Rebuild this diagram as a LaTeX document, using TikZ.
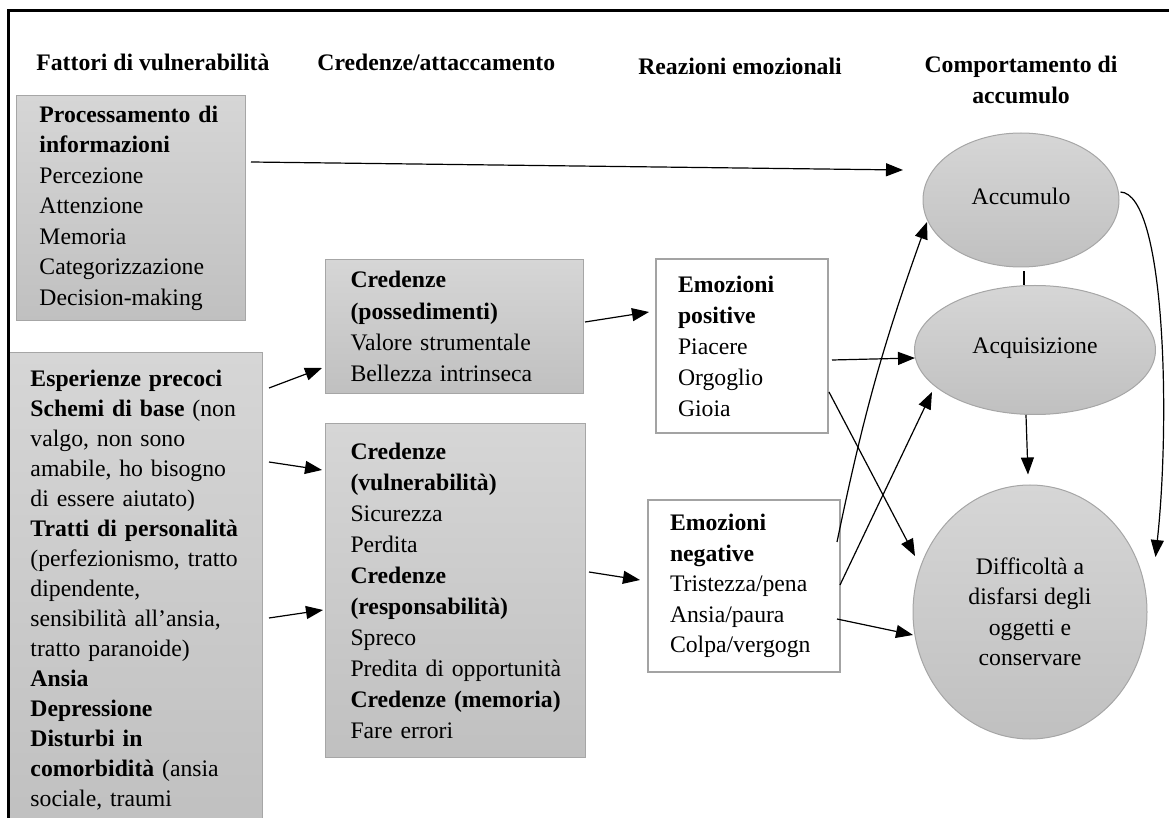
\documentclass[tikz,border=0pt]{standalone}
\usepackage{fontspec}
\setmainfont{Liberation Serif}
\usetikzlibrary{arrows.meta,positioning,shapes.geometric,calc}
\definecolor{hsLine}{HTML}{A6A6A6}
\definecolor{hsTop}{HTML}{D6D6D6}
\definecolor{hsBot}{HTML}{C0C0C0}
\definecolor{hsEmo}{HTML}{A3A3A3}
\newcommand{\hsfont}{\fontsize{11.85pt}{15.25pt}\selectfont}

\begin{document}
\begin{tikzpicture}[
  x=0.5pt, y=-0.5pt,
  head/.style={font=\hsfont\bfseries,inner sep=0pt,anchor=west},
  pad/.style={execute at begin node={\leftskip=#1\relax}},
  box/.style={draw=hsLine,line width=0.5pt,top color=hsTop,bottom color=hsBot,anchor=north west,align=left,inner sep=0pt,font=\hsfont},
  emo/.style={draw=hsEmo,line width=1pt,fill=white,anchor=north west,align=left,inner sep=0pt,pad=11pt,font=\hsfont},
  oval/.style={ellipse,draw=hsLine,line width=0.5pt,top color=hsTop,bottom color=hsBot,inner sep=0pt,align=center,font=\hsfont},
  flow/.style={-{Triangle[length=8.5pt,width=6.5pt]},line width=0.6pt,black}
]
  \useasboundingbox (0,0) rectangle (1169,818);
  \clip (0,0) rectangle (1169,818);

  % column headers
  \node[head] (hFatt) at (36,62) {Fattori di vulnerabilità};
  \node[head] (hCred) at (317,62) {Credenze/attaccamento};
  \node[head,anchor=center] (hReaz) at (740,66) {Reazioni emozionali};
  \node[head,anchor=center,align=center] (hComp) at (1021,80) {Comportamento di\\accumulo};

  % vulnerability factors
  \node[box,text width=114.5pt,minimum height=112.5pt,pad=11.5pt] (proc) at (16,95)
    {\textbf{Processamento di}\\\textbf{informazioni}\\Percezione\\Attenzione\\Memoria\\Categorizzazione\\Decision-making};
  \node[box,text width=127pt,minimum height=238pt,pad=11pt,font={\fontsize{11.85pt}{15pt}\selectfont}] (esp) at (8,352)
    {\textbf{Esperienze precoci}\\\textbf{Schemi di base} (non\\valgo, non sono\\amabile, ho bisogno\\di essere aiutato)\\\textbf{Tratti di personalità}\\(perfezionismo, tratto\\dipendente,\\sensibilità all’ansia,\\tratto paranoide)\\\textbf{Ansia}\\\textbf{Depressione}\\\textbf{Disturbi in}\\\textbf{comorbidità} (ansia\\sociale, traumi};

  % beliefs
  \node[box,text width=129pt,minimum height=67pt,pad=12.5pt,font={\fontsize{11.85pt}{15.6pt}\selectfont}] (poss) at (325,259)
    {\textbf{Credenze}\\\textbf{(possedimenti)}\\Valore strumentale\\Bellezza intrinseca};
  \node[box,text width=130pt,minimum height=167pt,pad=12.5pt,font={\fontsize{11.85pt}{15.5pt}\selectfont}] (vuln) at (325,423)
    {\textbf{Credenze}\\\textbf{(vulnerabilità)}\\Sicurezza\\Perdita\\\textbf{Credenze}\\\textbf{(responsabilità)}\\Spreco\\Predita di opportunità\\\textbf{Credenze (memoria)}\\Fare errori};

  % emotions
  \node[emo,text width=86pt,minimum height=87pt,font={\fontsize{11.85pt}{15.5pt}\selectfont}] (pos) at (655,258)
    {\textbf{Emozioni}\\\textbf{positive}\\Piacere\\Orgoglio\\Gioia};
  \node[emo,text width=96pt,minimum height=86pt] (neg) at (647,499)
    {\textbf{Emozioni}\\\textbf{negative}\\Tristezza/pena\\Ansia/paura\\Colpa/vergogn};

  % hoarding behaviour
  \node[oval,minimum width=98pt,minimum height=67pt] (accum) at (1021,200) {\raisebox{4pt}{Accumulo}};
  \node[oval,minimum width=120.5pt,minimum height=64.5pt] (acq) at (1035,350) {\raisebox{4pt}{Acquisizione}};
  \node[oval,minimum width=117pt,minimum height=127pt] (diff) at (1030,612)
    {\raisebox{4.5pt}{\parbox{62pt}{\centering Difficoltà a\\disfarsi degli\\oggetti e\\conservare}}};

  % connectors
  \draw[flow] ($(proc.north east)+(5,67)$) -- ($(accum.center)+(-118,-30)$);
  \draw[flow] ($(esp.north east)+(6,36)$) -- ($(poss.south west)+(-3,-26)$);
  \draw[flow] ($(esp.north east)+(6,110)$) -- ($(vuln.north west)+(-3,47)$);
  \draw[flow] ($(esp.north east)+(6,266)$) -- ($(vuln.north west)+(-2,187)$);
  \draw[flow] ($(poss.north east)+(1,63)$) -- ($(pos.north west)+(-6,54)$);
  \draw[flow] ($(vuln.north east)+(3,149)$) -- ($(neg.north west)+(-7,81)$);
  \draw[flow] ($(pos.north east)+(3,102)$) -- ($(acq.center)+(-120,8)$);
  \draw[flow] ($(pos.north east)+(0,134)$) -- ($(diff.center)+(-115,-56)$);
  \draw[flow] ($(neg.north east)+(-4,43)$) to[bend left=4] ($(accum.center)+(-94,22)$);
  \draw[flow] ($(neg.north east)+(-1,86)$) -- ($(acq.center)+(-103,42)$);
  \draw[flow] ($(neg.north east)+(-4,120)$) -- ($(diff.center)+(-117,23)$);
  \draw[line width=0.6pt] ($(accum.south)+(3,4)$) -- ($(acq.north)+(-11,0)$);
  \draw[flow] ($(acq.south)+(-9,0)$) -- ($(diff.north)+(-2,-10)$);
  \draw[flow] ($(accum.east)+(1,-8)$) .. controls +(45,2) and +(15,-137) .. ($(diff.east)+(8,-55)$);

  % frame
  \draw[line width=1.5pt] (8,818) -- (8,11) -- (1169,11);
\end{tikzpicture}
\end{document}
